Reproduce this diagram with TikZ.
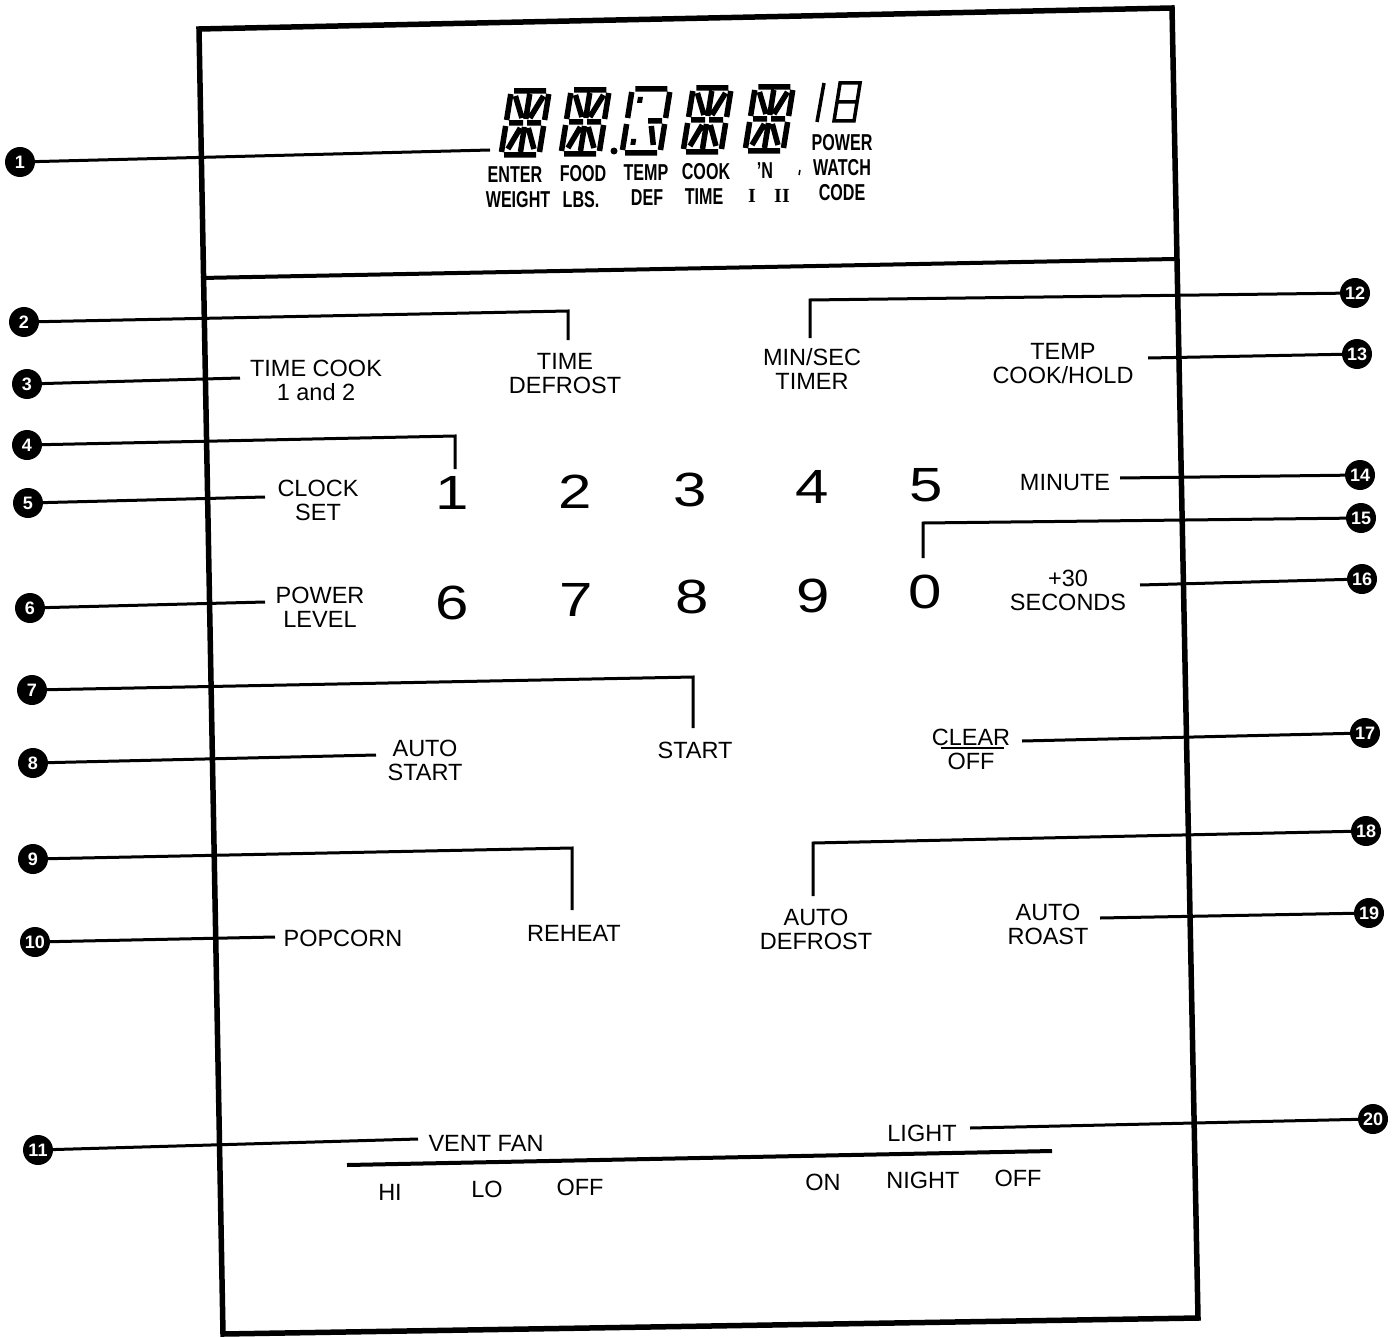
\documentclass[tikz,border=0pt]{standalone}
\usepackage{fontspec}
\setmainfont{Liberation Sans}
\newfontfamily\romfont{Liberation Serif}
\tikzset{
 lbl/.style={font=\fontsize{23.5}{24}\selectfont, align=center, inner sep=0pt},
 callout/.style={circle, fill=black, minimum size=30pt, inner sep=0pt, text=white, font=\bfseries\fontsize{18}{18}\selectfont},
 leader/.style={line width=3pt},
 panelframe/.style={line width=5.5pt, line join=miter},
 keydigit/.style={font=\fontsize{48}{48}\selectfont, inner sep=0pt},
 dlabel/.style={font=\bfseries\fontsize{23}{23}\selectfont, inner sep=0pt},
 segline/.style={line width=5.5pt, line cap=butt},
}
\newcommand\dsc[1]{\scalebox{0.7}[1]{#1}}
\newcommand\dispchar[2]{%
 \begin{scope}[shift={(#1,#2)}, xslant=0.16]
  \draw[segline] (3,0)--(35,0) (3,-64)--(35,-64)
   (0,-3)--(0,-29) (0,-35)--(0,-61) (38,-3)--(38,-29) (38,-35)--(38,-61)
   (3,-32)--(17,-32) (21,-32)--(35,-32)
   (19,-36)--(19,-61) (19,-3)--(19,-28)
   (5,-59)--(15,-37) (33,-59)--(23,-37)
   (15,-27)--(6,-6) (23,-27)--(32,-6);
 \end{scope}}
\newcommand\dispcharC[2]{%
 \begin{scope}[shift={(#1,#2)}, xslant=0.16]
  \draw[segline] (3,0)--(35,0) (3,-64)--(35,-64)
   (0,-3)--(0,-29) (0,-35)--(0,-61) (38,-3)--(38,-29) (38,-35)--(38,-61)
   (21,-32)--(35,-32);
  \fill (7,-56) rectangle (12,-50) (7,-14) rectangle (12,-8);
  \draw[segline] (25,-27)--(30,-8);
 \end{scope}}
\begin{document}
\begin{tikzpicture}[x=1pt,y=-1pt]
\useasboundingbox (0,0) rectangle (1396,1337);
\fill[white] (0,0) rectangle (1396,1337);

% display
\dispchar{501}{155}
\dispchar{561}{154}
\dispcharC{622}{153}
\dispchar{683}{152}
\dispchar{745}{151}
\fill (614,151) circle (3.5);
\draw[line width=3.5pt] (817,122)--(824,83);
\begin{scope}[shift={(834,121)}, xslant=0.16]
 \draw[line width=3.5pt] (0,0) rectangle (20,-38) (0,-19)--(20,-19);
\end{scope}
\node[dlabel] (dEnter) at (515,175) {\dsc{ENTER}};
\node[dlabel] (dWeight) at (518,200) {\dsc{WEIGHT}};
\node[dlabel] (dFood) at (583,174) {\dsc{FOOD}};
\node[dlabel] (dLbs) at (581,200) {\dsc{LBS.}};
\node[dlabel] (dTemp) at (646,173) {\dsc{TEMP}};
\node[dlabel] (dDef) at (647,198) {\dsc{DEF}};
\node[dlabel] (dCook) at (706,172) {\dsc{COOK}};
\node[dlabel] (dTime) at (704,197) {\dsc{TIME}};
\node[dlabel] (dN) at (765,171) {\dsc{'N}};
\node[dlabel, font=\romfont\bfseries\fontsize{20}{20}\selectfont] (dI) at (752,196) {I};
\node[dlabel, font=\romfont\bfseries\fontsize{20}{20}\selectfont] (dII) at (782,196) {II};
\node[dlabel] (dPower) at (842,143) {\dsc{POWER}};
\node[dlabel] (dWatch) at (842,168) {\dsc{WATCH}};
\node[dlabel] (dCode) at (842,193) {\dsc{CODE}};
\draw[line width=1.5pt] (800,170)--(799,175);

% panel frame
\draw[panelframe] (199,29) -- (1172,8) -- (1198,1318) -- (223,1334) -- cycle;
\draw[line width=4pt] (201,278) -- (1175,259);

% labels
\node[lbl] (tc) at (316,380) {TIME COOK\\1 and 2};
\node[lbl] (td) at (565,374) {TIME\\DEFROST};
\node[lbl] (ms) at (812,369) {MIN/SEC\\TIMER};
\node[lbl] (tch) at (1063,364) {TEMP\\COOK/HOLD};
\node[lbl] (cs) at (318,500) {CLOCK\\SET};
\node[lbl] (mn) at (1065,483) {MINUTE};
\node[lbl] (p30) at (1068,590) {+30\\SECONDS};
\node[lbl] (pl) at (320,607) {POWER\\LEVEL};
\node[lbl] (as) at (425,760) {AUTO\\START};
\node[lbl] (st) at (695,750) {START};
\node[lbl] (co) at (971,749) {CLEAR\\OFF};
\draw[line width=2pt] (941,748) -- (1004,748);
\node[lbl] (pc) at (343,938) {POPCORN};
\node[lbl] (rh) at (574,933) {REHEAT};
\node[lbl] (ad) at (816,929) {AUTO\\DEFROST};
\node[lbl] (ar) at (1048,924) {AUTO\\ROAST};
\node[lbl] (vf) at (486,1143) {VENT FAN};
\node[lbl] (lt) at (922,1133) {LIGHT};
\draw[line width=4pt] (347,1165) -- (1052,1151);
\node[lbl] (hi) at (390,1192) {HI};
\node[lbl] (lo) at (487,1189) {LO};
\node[lbl] (off1) at (580,1187) {OFF};
\node[lbl] (on) at (823,1182) {ON};
\node[lbl] (nt) at (923,1180) {NIGHT};
\node[lbl] (off2) at (1018,1178) {OFF};

% keypad digits
\node[keydigit] (k1) at (452,493) {\scalebox{1.25}[1]{1}};
\node[keydigit] (k2) at (575,492) {\scalebox{1.25}[1]{2}};
\node[keydigit] (k3) at (690,490) {\scalebox{1.25}[1]{3}};
\node[keydigit] (k4) at (812,487) {\scalebox{1.25}[1]{4}};
\node[keydigit] (k5) at (926,485) {\scalebox{1.25}[1]{5}};
\node[keydigit] (k6) at (452,603) {\scalebox{1.25}[1]{6}};
\node[keydigit] (k7) at (576,600) {\scalebox{1.25}[1]{7}};
\node[keydigit] (k8) at (692,597) {\scalebox{1.25}[1]{8}};
\node[keydigit] (k9) at (813,596) {\scalebox{1.25}[1]{9}};
\node[keydigit] (k0) at (925,592) {\scalebox{1.25}[1]{0}};

% callouts
\node[callout] (c1) at (20,162) {1};
\node[callout] (c2) at (24,322) {2};
\node[callout] (c3) at (27,384) {3};
\node[callout] (c4) at (27,445) {4};
\node[callout] (c5) at (28,503) {5};
\node[callout] (c6) at (30,608) {6};
\node[callout] (c7) at (32,690) {7};
\node[callout] (c8) at (33,763) {8};
\node[callout] (c9) at (33,859) {9};
\node[callout] (c10) at (35,942) {10};
\node[callout] (c11) at (38,1150) {11};
\node[callout] (c12) at (1355,293) {12};
\node[callout] (c13) at (1357,354) {13};
\node[callout] (c14) at (1360,475) {14};
\node[callout] (c15) at (1361,518) {15};
\node[callout] (c16) at (1362,579) {16};
\node[callout] (c17) at (1365,733) {17};
\node[callout] (c18) at (1366,831) {18};
\node[callout] (c19) at (1369,913) {19};
\node[callout] (c20) at (1373,1119) {20};

% leader end points
\coordinate (e1) at (490,150);
\coordinate (b2) at (568,311); \coordinate (e2) at (568,340);
\coordinate (e3) at (240,378);
\coordinate (b4) at (455,436); \coordinate (e4) at (455,469);
\coordinate (e5) at (265,497);
\coordinate (e6) at (265,602);
\coordinate (b7) at (693,677); \coordinate (e7) at (693,728);
\coordinate (e8) at (376,755);
\coordinate (b9) at (572,848); \coordinate (e9) at (572,910);
\coordinate (e10) at (275,937);
\coordinate (e11) at (418,1139);
\coordinate (b12) at (810,300); \coordinate (e12) at (810,338);
\coordinate (e13) at (1148,358);
\coordinate (e14) at (1120,478);
\coordinate (b15) at (923,523); \coordinate (e15) at (923,558);
\coordinate (e16) at (1140,585);
\coordinate (e17) at (1022,741);
\coordinate (b18) at (813,843); \coordinate (e18) at (813,896);
\coordinate (e19) at (1100,918);
\coordinate (e20) at (970,1128);

\draw[leader] (c1) -- (e1);
\draw[leader] (c2) -- (b2) -- (e2);
\draw[leader] (c3) -- (e3);
\draw[leader] (c4) -- (b4) -- (e4);
\draw[leader] (c5) -- (e5);
\draw[leader] (c6) -- (e6);
\draw[leader] (c7) -- (b7) -- (e7);
\draw[leader] (c8) -- (e8);
\draw[leader] (c9) -- (b9) -- (e9);
\draw[leader] (c10) -- (e10);
\draw[leader] (c11) -- (e11);
\draw[leader] (c12) -- (b12) -- (e12);
\draw[leader] (c13) -- (e13);
\draw[leader] (c14) -- (e14);
\draw[leader] (c15) -- (b15) -- (e15);
\draw[leader] (c16) -- (e16);
\draw[leader] (c17) -- (e17);
\draw[leader] (c18) -- (b18) -- (e18);
\draw[leader] (c19) -- (e19);
\draw[leader] (c20) -- (e20);
\end{tikzpicture}
\end{document}
